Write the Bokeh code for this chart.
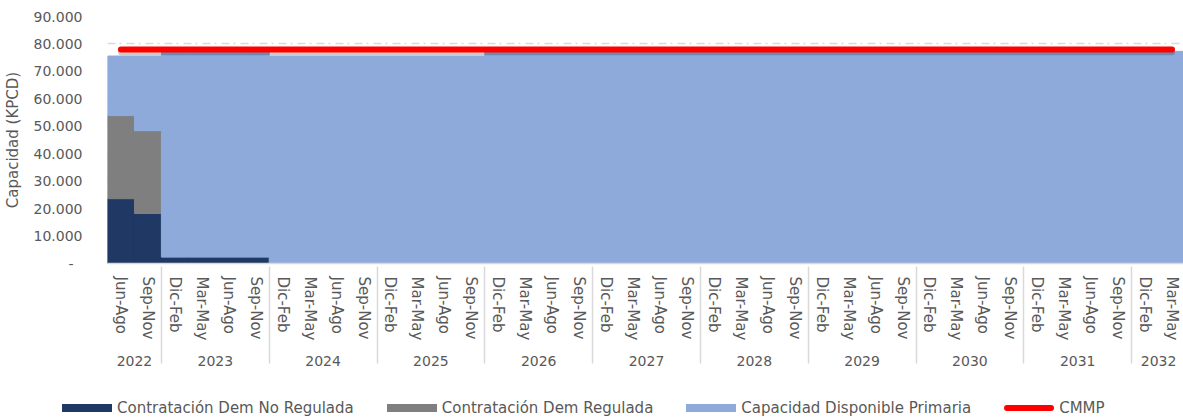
from bokeh.plotting import figure
from bokeh.layouts import column
from bokeh.models import FactorRange, Range1d, FixedTicker, ColumnDataSource, Div
from bokeh.embed import file_html
from bokeh.resources import INLINE

FONT = "DejaVu Sans"
TXT = "#595959"

years = (["2022"] * 2 + ["2023"] * 4 + ["2024"] * 4 + ["2025"] * 4 + ["2026"] * 4 +
         ["2027"] * 4 + ["2028"] * 4 + ["2029"] * 4 + ["2030"] * 4 + ["2031"] * 4 + ["2032"] * 2)
periods = (["Jun-Ago", "Sep-Nov"] + ["Dic-Feb", "Mar-May", "Jun-Ago", "Sep-Nov"] * 9 +
           ["Dic-Feb", "Mar-May"])

no_regulada = [23600, 18200, 2400, 2400, 2400, 2400] + [0] * 34
regulada = [30300, 30200] + [0] * 38
total_capacidad = ([75600, 75600] + [77200] * 4 + [75600] * 8 + [77300] * 26)
disponible = [t - a - b for t, a, b in zip(total_capacidad, no_regulada, regulada)]
cmmp = [78000] * 40

series_names = ["Contratación Dem No Regulada", "Contratación Dem Regulada",
                "Capacidad Disponible Primaria", "CMMP"]

y_ticks = [0, 10000, 20000, 30000, 40000, 50000, 60000, 70000, 80000, 90000]
y_tick_labels = ["-\u00a0\u00a0", "10.000", "20.000", "30.000", "40.000", "50.000",
                 "60.000", "70.000", "80.000", "90.000"]

colors = ["#1f3864", "#7f7f7f", "#8eaadb"]
RED = "#ff0000"

factors = list(zip(years, periods))
src = ColumnDataSource(dict(x=factors, nr=no_regulada, r=regulada, d=disponible,
                            cmmp=cmmp, shadow=[v - 1000 for v in cmmp]))

p = figure(x_range=FactorRange(*factors, range_padding=0, group_padding=0, subgroup_padding=0,
                               factor_padding=0),
           y_range=Range1d(0, 90000),
           frame_width=1078, frame_height=247, output_backend="svg", toolbar_location=None,
           min_border_left=105, min_border_right=0, min_border_top=16, min_border_bottom=0)
p.outline_line_color = None
p.background_fill_color = "white"
p.border_fill_color = "white"

stack = p.vbar_stack(["nr", "r", "d"], x="x", width=1.0, source=src,
                     fill_color=colors, line_color=colors, line_width=1)
shadow = p.line(x="x", y="shadow", source=src, line_color="black", line_alpha=0.2,
                line_width=6, line_cap="round")
red = p.line(x="x", y="cmmp", source=src, line_color=RED, line_width=6, line_cap="round")

# grid
p.xgrid.grid_line_color = None
p.ygrid.ticker = FixedTicker(ticks=y_ticks)
p.ygrid.grid_line_color = "#d9d9d9"
p.ygrid.grid_line_width = 1.5
p.ygrid.grid_line_dash = "8 4 2 5"
p.ygrid.level = "underlay"

# y axis
p.yaxis.ticker = FixedTicker(ticks=y_ticks)
p.yaxis.major_label_overrides = {t: l for t, l in zip(y_ticks, y_tick_labels)}
p.yaxis.axis_line_color = None
p.yaxis.major_tick_line_color = None
p.yaxis.minor_tick_line_color = None
p.yaxis.major_label_text_font = FONT
p.yaxis.major_label_text_font_size = "14px"
p.yaxis.major_label_text_color = TXT
p.yaxis.major_label_standoff = 19
p.yaxis.axis_label = "Capacidad (KPCD)"
p.yaxis.axis_label_text_font = FONT
p.yaxis.axis_label_text_font_size = "15px"
p.yaxis.axis_label_text_font_style = "normal"
p.yaxis.axis_label_text_color = TXT
p.yaxis.axis_label_standoff = 9

# x axis
xa = p.xaxis[0]
xa.axis_line_color = "#d9d9d9"
xa.axis_line_width = 1.5
xa.major_tick_line_color = None
xa.minor_tick_line_color = None
xa.major_tick_out = 0
xa.major_label_orientation = "vertical"
xa.major_label_text_font = FONT
xa.major_label_text_font_size = "15px"
xa.major_label_text_color = TXT
xa.major_label_standoff = 13
xa.group_text_font = FONT
xa.group_text_font_size = "14px"
xa.group_text_font_style = "normal"
xa.group_text_color = TXT
xa.group_label_orientation = "horizontal"
xa.separator_line_color = "#d9d9d9"
xa.separator_line_width = 1.5

# legend as an HTML strip below the chart
legend_colors = colors + [RED]
items = []
for name, col in zip(series_names, legend_colors):
    is_line = name == "CMMP"
    sw_h = 6 if is_line else 8
    radius = 3 if is_line else 0
    items.append(
        '<span style="display:inline-flex;align-items:center;margin-right:33px;">'
        f'<span style="display:inline-block;width:50px;height:{sw_h}px;background:{col};'
        f'border-radius:{radius}px;"></span>'
        f'<span style="margin-left:5px;white-space:nowrap;">{name}</span></span>'
    )
html = ('<div style="box-sizing:border-box;width:1183px;height:51px;padding:27px 0 0 62px;'
        "display:flex;align-items:center;font-family:'DejaVu Sans';font-size:15px;"
        f'color:{TXT};line-height:16px;">' + "".join(items) + '</div>')
legend_div = Div(text=html, width=1183, height=51, margin=0)

layout = column(p, legend_div, spacing=0)
open("out.html", "w").write(file_html(layout, INLINE))
